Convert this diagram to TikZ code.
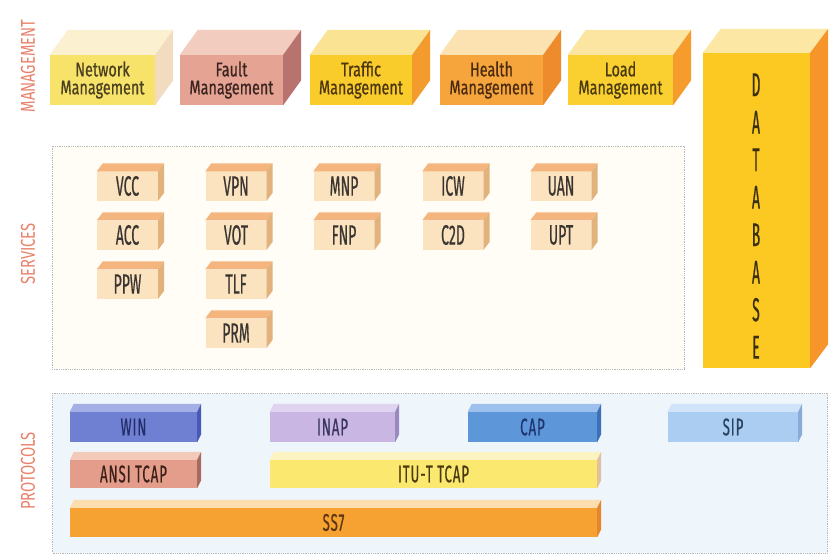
\documentclass[tikz,border=0pt]{standalone}
\usepackage{fontspec}
\setmainfont{Fira Sans}
\newfontfamily\mgfont[FakeStretch=0.72,FakeBold=0.6]{Fira Sans}
\newfontfamily\cdfont[FakeStretch=0.5,FakeBold=0.5]{Fira Sans}
\newfontfamily\prfont[FakeStretch=0.55,LetterSpace=4,FakeBold=0.5]{Fira Sans}
\newfontfamily\dbfont[FakeStretch=0.42,FakeBold=0.5]{Fira Sans}
\newfontfamily\lbfont[FakeStretch=0.74]{Fira Sans}
% colours
\definecolor{nwF}{HTML}{F7E36A}\definecolor{nwT}{HTML}{FBF0D0}\definecolor{nwS}{HTML}{F2DCC0}\definecolor{nwX}{HTML}{4A4020}
\definecolor{ftF}{HTML}{E5A393}\definecolor{ftT}{HTML}{F2CDBF}\definecolor{ftS}{HTML}{B8736E}\definecolor{ftX}{HTML}{3A2420}
\definecolor{trF}{HTML}{F9CB2B}\definecolor{trT}{HTML}{FBE394}\definecolor{trS}{HTML}{F39B2D}\definecolor{trX}{HTML}{4A3510}
\definecolor{hlF}{HTML}{F6A53C}\definecolor{hlT}{HTML}{FBE2B0}\definecolor{hlS}{HTML}{EE8B2C}\definecolor{hlX}{HTML}{4A2A10}
\definecolor{ldF}{HTML}{F9D030}\definecolor{ldT}{HTML}{FBE5A0}\definecolor{ldS}{HTML}{F59C2C}\definecolor{ldX}{HTML}{4A3A10}
\definecolor{dbF}{HTML}{FCC923}\definecolor{dbT}{HTML}{FCE7A4}\definecolor{dbS}{HTML}{F6962A}\definecolor{dbX}{HTML}{3A3010}
\definecolor{svF}{HTML}{FBE3C0}\definecolor{svT}{HTML}{F4B67E}\definecolor{svS}{HTML}{E2B27C}\definecolor{svX}{HTML}{3A3530}
\definecolor{wnF}{HTML}{6F80D2}\definecolor{wnT}{HTML}{A4AFE6}\definecolor{wnS}{HTML}{4759B8}\definecolor{wnX}{HTML}{222E6A}
\definecolor{inF}{HTML}{C9B6E3}\definecolor{inT}{HTML}{DFD3F0}\definecolor{inS}{HTML}{9A88C0}\definecolor{inX}{HTML}{3A3560}
\definecolor{cpF}{HTML}{5D96D9}\definecolor{cpT}{HTML}{9DC0EC}\definecolor{cpS}{HTML}{3C70B8}\definecolor{cpX}{HTML}{1E3570}
\definecolor{spF}{HTML}{ABCDF1}\definecolor{spT}{HTML}{D0E3F8}\definecolor{spS}{HTML}{8AAAD8}\definecolor{spX}{HTML}{2A4060}
\definecolor{anF}{HTML}{E39D8A}\definecolor{anT}{HTML}{F3CABA}\definecolor{anS}{HTML}{A86A60}\definecolor{anX}{HTML}{3A2018}
\definecolor{itF}{HTML}{FBE86E}\definecolor{itT}{HTML}{FCF3C2}\definecolor{itS}{HTML}{E0C0A0}\definecolor{itX}{HTML}{4A3A10}
\definecolor{ssF}{HTML}{F6A233}\definecolor{ssT}{HTML}{FBDDB0}\definecolor{ssS}{HTML}{E6852A}\definecolor{ssX}{HTML}{5A3510}
\definecolor{lblc}{HTML}{E9826B}
\definecolor{svbg}{HTML}{FFFDF5}
\definecolor{prbg}{HTML}{EEF6FB}
\definecolor{frame}{HTML}{B8B8B8}
% 3-D box: name, centre, width, height, dx, dy, colour prefix, font, text
\newcommand\tdbox[9]{%
  \node[inner sep=0pt, minimum width=#3pt, minimum height=#4pt, fill=#7F,
        text=#7X, font=#8, align=center] (#1) at (#2) {#9};
  \fill[#7T] (#1.north west) -- ++(#5,-#6) -- ([shift={(#5,-#6)}]#1.north east)
             -- (#1.north east) -- cycle;
  \fill[#7S] (#1.north east) -- ++(#5,-#6) -- ([shift={(#5,-#6)}]#1.south east)
             -- (#1.south east) -- cycle;
}
\tikzset{
  layer/.style={draw=frame, densely dotted, line width=0.8pt},
  sidelabel/.style={rotate=90, text=lblc, inner sep=0pt},
}
\begin{document}
\begin{tikzpicture}[x=1pt,y=-1pt]
\useasboundingbox (0,0) rectangle (829,556);
\fill[white] (0,0) rectangle (829,556);

% layer frames
\node[layer, fill=svbg, minimum width=632pt, minimum height=223pt, inner sep=0pt] (services) at (368,257.5) {};
\node[layer, fill=prbg, minimum width=775pt, minimum height=160pt, inner sep=0pt] (protocols) at (440,473) {};

% side labels
\node[sidelabel, font=\lbfont\fontsize{20}{20}\selectfont] (lmg) at (28,66) {MANAGEMENT};
\node[sidelabel, font=\lbfont\fontsize{20}{20}\selectfont] (lsv) at (28,254) {SERVICES};
\node[sidelabel, font=\lbfont\fontsize{20}{20}\selectfont] (lpr) at (28,471) {PROTOCOLS};

% management row
\def\mgf{\mgfont\fontsize{20}{18}\selectfont}
\tdbox{netm}{102.5,80}{105}{50}{18}{25}{nw}{\mgf}{Network\\Management}
\tdbox{fltm}{231.5,80}{103}{50}{18}{25}{ft}{\mgf}{Fault\\Management}
\tdbox{trfm}{361,80}{102}{50}{18}{25}{tr}{\mgf}{Traffic\\Management}
\tdbox{hltm}{491.5,80}{103}{50}{18}{25}{hl}{\mgf}{Health\\Management}
\tdbox{ldm}{620.5,80}{105}{50}{18}{25}{ld}{\mgf}{Load\\Management}

% database
\tdbox{db}{756.5,210.5}{107}{315}{18}{24}{db}{\mgf}{}
\node[text=dbX, font=\dbfont\fontsize{33}{37.5}\selectfont, align=center, inner sep=0pt] (dbtext) at (756,216)
  {D\\A\\T\\A\\B\\A\\S\\E};

% services
\def\svf{\cdfont\fontsize{28}{28}\selectfont}
\tdbox{vcc}{127.5,186}{61}{29}{6}{8}{sv}{\svf}{VCC}
\tdbox{acc}{127.5,235}{61}{29}{6}{8}{sv}{\svf}{ACC}
\tdbox{ppw}{127.5,284}{61}{29}{6}{8}{sv}{\svf}{PPW}
\tdbox{vpn}{236,186}{61}{29}{6}{8}{sv}{\svf}{VPN}
\tdbox{vot}{236,235}{61}{29}{6}{8}{sv}{\svf}{VOT}
\tdbox{tlf}{236,284}{61}{29}{6}{8}{sv}{\svf}{TLF}
\tdbox{prm}{236,333}{61}{29}{6}{8}{sv}{\svf}{PRM}
\tdbox{mnp}{344,186}{61}{29}{6}{8}{sv}{\svf}{MNP}
\tdbox{fnp}{344,235}{61}{29}{6}{8}{sv}{\svf}{FNP}
\tdbox{icw}{453,186}{61}{29}{6}{8}{sv}{\svf}{ICW}
\tdbox{ctd}{453,235}{61}{29}{6}{8}{sv}{\svf}{C2D}
\tdbox{uan}{561,186}{61}{29}{6}{8}{sv}{\svf}{UAN}
\tdbox{upt}{561,235}{61}{29}{6}{8}{sv}{\svf}{UPT}

% protocols
\def\prf{\prfont\fontsize{24}{24}\selectfont}
\tdbox{win}{133.5,427}{127}{30}{4}{8}{wn}{\prf}{WIN}
\tdbox{inap}{332.5,427}{125}{30}{4}{8}{in}{\prf}{INAP}
\tdbox{cap}{532.5,427}{129}{30}{4}{8}{cp}{\prf}{CAP}
\tdbox{sip}{733,427}{130}{30}{4}{8}{sp}{\prf}{SIP}
\tdbox{ansi}{133.5,474}{127}{28}{4}{8}{an}{\prf}{ANSI TCAP}
\tdbox{itu}{433.5,474}{327}{28}{4}{8}{it}{\prf}{ITU-T TCAP}
\tdbox{ss7}{333.5,522.5}{527}{29}{4}{8}{ss}{\prf}{SS7}
\end{tikzpicture}
\end{document}
